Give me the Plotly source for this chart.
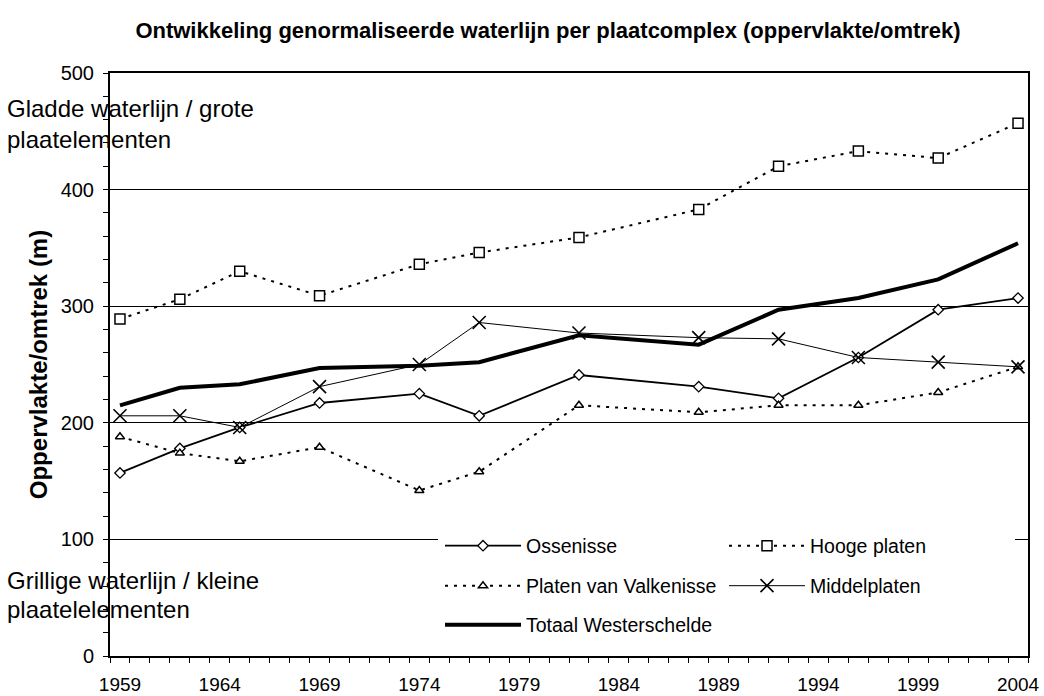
import plotly.graph_objects as go

# ---- data ----
years = [1959, 1962, 1965, 1969, 1974, 1977, 1982, 1988, 1992, 1996, 2000, 2004]
ossenisse = [157, 178, 196, 217, 225, 206, 241, 231, 221, 256, 297, 307]
hooge_platen = [289, 306, 330, 309, 336, 346, 359, 383, 420, 433, 427, 457]
platen_van_valkenisse = [188, 174, 167, 179, 142, 158, 215, 209, 215, 215, 226, 248]
middelplaten = [206, 206, 196, 231, 250, 286, 277, 273, 272, 256, 252, 248]
totaal_westerschelde = [215, 230, 233, 247, 249, 252, 275, 267, 297, 307, 323, 354]

tick_years = [1959, 1964, 1969, 1974, 1979, 1984, 1989, 1994, 1999, 2004]
y_ticks = [0, 100, 200, 300, 400, 500]

title_text = "Ontwikkeling genormaliseerde waterlijn per plaatcomplex (oppervlakte/omtrek)"
y_title = "Oppervlakte/omtrek (m)"

FONT = "Liberation Sans, Arial, sans-serif"
W, H = 1044, 696
ML, MR, MT, MB = 110, 16, 73, 40
PW, PH = W - ML - MR, H - MT - MB


def px_x(px):
    return (px - ML) / PW


def px_y(py):
    return (H - MB - py) / PH


fig = go.Figure()

fig.add_trace(go.Scatter(
    x=years, y=ossenisse, name="Ossenisse", mode="lines+markers",
    line=dict(color="black", width=1.8),
    marker=dict(symbol="diamond", size=8, color="white", line=dict(color="black", width=1.3)),
    legend="legend"))
fig.add_trace(go.Scatter(
    x=years, y=hooge_platen, name="Hooge platen", mode="lines+markers",
    line=dict(color="black", width=2, dash="3px,6px"),
    marker=dict(symbol="square", size=10, color="white", line=dict(color="black", width=1.5)),
    legend="legend2"))
fig.add_trace(go.Scatter(
    x=years, y=platen_van_valkenisse, name="Platen van Valkenisse", mode="lines+markers",
    line=dict(color="black", width=2, dash="3px,6px"),
    marker=dict(symbol="triangle-up", size=8, color="white", line=dict(color="black", width=1.5)),
    legend="legend3"))
fig.add_trace(go.Scatter(
    x=years, y=middelplaten, name="Middelplaten", mode="lines+markers",
    line=dict(color="black", width=1),
    marker=dict(symbol="x-thin", size=13, color="black", line=dict(color="black", width=1.6)),
    legend="legend4"))
fig.add_trace(go.Scatter(
    x=years, y=totaal_westerschelde, name="Totaal Westerschelde", mode="lines",
    line=dict(color="black", width=4),
    legend="legend5"))

# white box behind the legend (hides the gridline there)
fig.add_shape(type="rect", xref="paper", yref="paper",
              x0=px_x(438), x1=px_x(1015), y0=px_y(645), y1=px_y(524),
              fillcolor="white", line=dict(width=0), layer="above")

leg_common = dict(bgcolor="rgba(0,0,0,0)", borderwidth=0, font=dict(family=FONT, size=19.5, color="black"),
                  xanchor="left", yanchor="middle", itemwidth=76, xref="paper", yref="paper",
                  visible=True)
col1, col2 = px_x(440), px_x(724)
row1, row2, row3 = px_y(546), px_y(586), px_y(625)

fig.update_layout(
    width=W, height=H,
    margin=dict(l=ML, r=MR, t=MT, b=MB, autoexpand=False),
    paper_bgcolor="white", plot_bgcolor="white",
    showlegend=True,
    font=dict(family=FONT, size=19, color="black"),
    title=dict(text="<b>" + title_text + "</b>", x=548 / W, xanchor="center", xref="container",
               y=1 - 30 / H, yanchor="middle", yref="container",
               font=dict(family=FONT, size=22, color="black")),
    legend=dict(x=col1, y=row1, **leg_common),
    legend2=dict(x=col2, y=row1, **leg_common),
    legend3=dict(x=col1, y=row2, **leg_common),
    legend4=dict(x=col2, y=row2, **leg_common),
    legend5=dict(x=col1, y=row3, **leg_common),
    xaxis=dict(range=[1958.5, 2004.5], tickvals=tick_years, ticktext=[str(t) for t in tick_years],
               ticks="", showgrid=False, zeroline=False, automargin=False,
               showline=True, linecolor="black", linewidth=2, mirror=True,
               ticklabelstandoff=10,
               tickfont=dict(family=FONT, size=19, color="black"),
               minor=dict(ticks="outside", tick0=1958.5, dtick=1, ticklen=5, tickwidth=1,
                          tickcolor="black", showgrid=False)),
    yaxis=dict(range=[0, 500], tickvals=y_ticks, ticks="outside", ticklen=5, tickwidth=1, tickcolor="black",
               showgrid=True, gridcolor="black", gridwidth=1, zeroline=False, automargin=False,
               showline=True, linecolor="black", linewidth=2, mirror=True,
               ticklabelstandoff=5,
               tickfont=dict(family=FONT, size=20, color="black"),
               minor=dict(ticks="outside", dtick=20, ticklen=5, tickwidth=1, tickcolor="black", showgrid=False),
               title=dict(text="<b>" + y_title + "</b>", standoff=6,
                          font=dict(family=FONT, size=24, color="black"))),
)

ann_font = dict(family=FONT, size=24, color="black")
for txt, py in [("Gladde waterlijn / grote", 108), ("plaatelementen", 139),
                ("Grillige waterlijn / kleine", 580), ("plaatelelementen", 609)]:
    fig.add_annotation(text=txt, xref="paper", yref="paper", x=px_x(5), y=px_y(py),
                       xanchor="left", yanchor="middle", showarrow=False, font=ann_font)

fig.write_html("out.html", config={"displayModeBar": False},
               post_script="document.body.style.margin='0px';document.body.style.padding='0px';")
